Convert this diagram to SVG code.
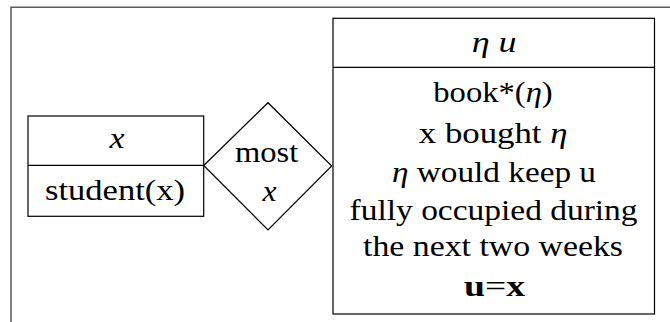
<svg xmlns="http://www.w3.org/2000/svg" width="670" height="322" viewBox="0 0 670 322">
<style>
text{font-family:"Liberation Serif","DejaVu Serif",serif;font-size:30px;fill:#000}
.i{font-style:italic}
.b{font-weight:bold}
.s{fill:#fff;stroke:#000;stroke-width:1.2}
.l{stroke:#000;stroke-width:1.2;fill:none}
</style>
<rect width="670" height="322" fill="#fff"/>
<path d="M11 322 V7.3 H670" fill="none" stroke="#5a5a5a" stroke-width="1.5"/>
<g id="connectors"></g>
<g id="box-x">
<rect class="s" x="28" y="116" width="175.7" height="100.3"/>
<line class="l" x1="28" y1="165.3" x2="203.7" y2="165.3"/>
<text class="i" x="109.5" y="148.3" textLength="15" lengthAdjust="spacingAndGlyphs">x</text>
<text x="45" y="200" textLength="140" lengthAdjust="spacingAndGlyphs">student(x)</text>
</g>
<g id="most">
<polygon class="s" points="203.7,165.5 268,102.7 331.7,166 268,230"/>
<text x="235" y="161.7" textLength="63.3" lengthAdjust="spacingAndGlyphs">most</text>
<text class="i" x="262.5" y="200.7" textLength="14" lengthAdjust="spacingAndGlyphs">x</text>
</g>
<g id="box-eta">
<rect class="s" x="333" y="18.3" width="321.5" height="295.7"/>
<line class="l" x1="333" y1="67.3" x2="654.5" y2="67.3"/>
<text class="i" x="471.7" y="51.7" textLength="45" lengthAdjust="spacingAndGlyphs">η  u</text>
<text x="433.3" y="101.7" textLength="119.4" lengthAdjust="spacingAndGlyphs">book*(<tspan class="i">η</tspan>)</text>
<text x="418.8" y="143.3" textLength="148.7" lengthAdjust="spacingAndGlyphs">x bought <tspan class="i">η</tspan></text>
<text x="392" y="181.7" textLength="204" lengthAdjust="spacingAndGlyphs"><tspan class="i">η</tspan> would keep u</text>
<text x="349.6" y="220" textLength="288" lengthAdjust="spacingAndGlyphs">fully occupied during</text>
<text x="363" y="256" textLength="260" lengthAdjust="spacingAndGlyphs">the next two weeks</text>
<text x="464" y="296" textLength="61" lengthAdjust="spacingAndGlyphs"><tspan class="b">u</tspan>=<tspan class="b">x</tspan></text>
</g>
</svg>
